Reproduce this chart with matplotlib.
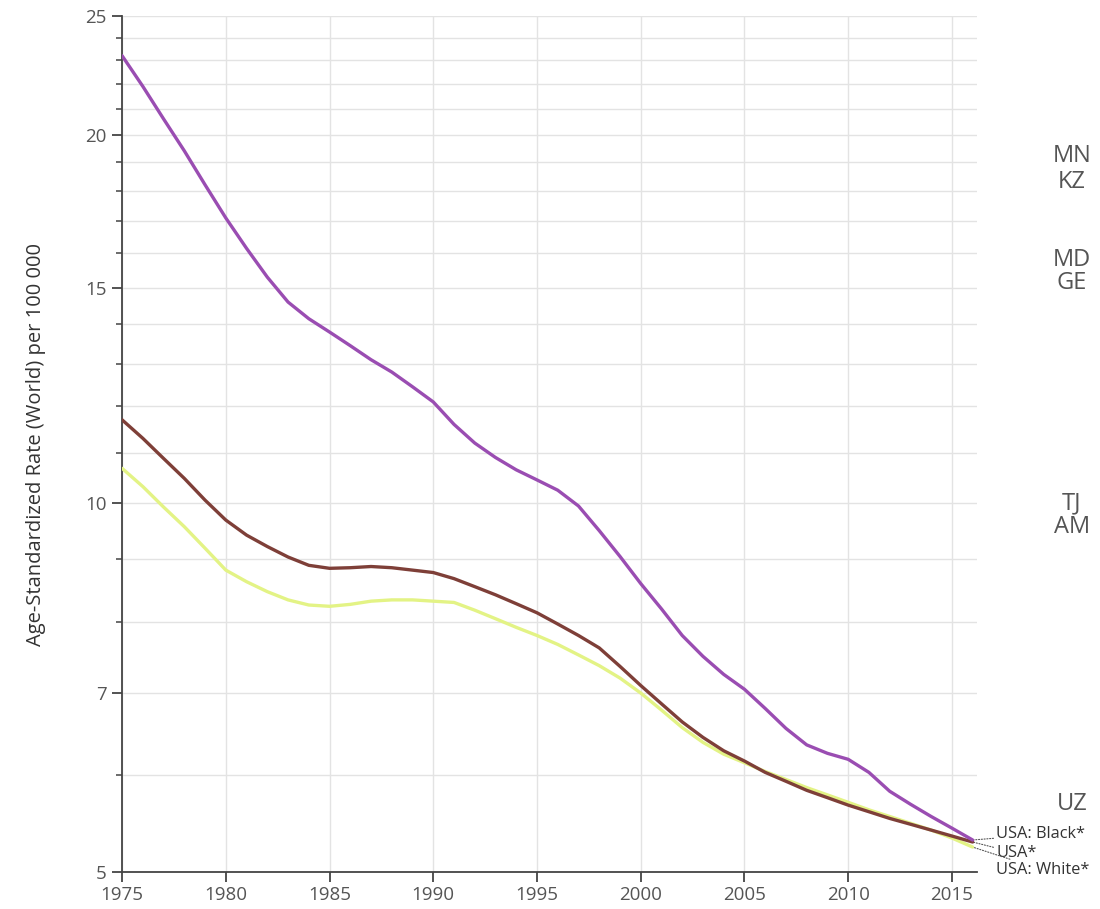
import matplotlib
matplotlib.use("Agg")
import matplotlib.pyplot as plt
from matplotlib.ticker import FixedLocator, NullFormatter, FixedFormatter
import matplotlib.transforms as mtransforms

plt.rcParams['font.family'] = ['Open Sans', 'DejaVu Sans']

years = list(range(1975, 2017))

# USA: Black*
black = [23.2, 21.9, 20.6, 19.4, 18.2, 17.1, 16.15, 15.3, 14.6, 14.15,
         13.8, 13.45, 13.1, 12.8, 12.45, 12.1, 11.6, 11.2, 10.9, 10.65,
         10.45, 10.25, 9.95, 9.5, 9.05, 8.6, 8.2, 7.8, 7.5, 7.25,
         7.05, 6.8, 6.55, 6.35, 6.25, 6.18, 6.03, 5.82, 5.68, 5.55,
         5.43, 5.31]
# USA*
total = [11.7, 11.3, 10.88, 10.48, 10.06, 9.69, 9.42, 9.22, 9.04, 8.9,
         8.85, 8.86, 8.88, 8.86, 8.82, 8.78, 8.68, 8.55, 8.42, 8.28,
         8.14, 7.97, 7.8, 7.62, 7.36, 7.1, 6.86, 6.63, 6.44, 6.28,
         6.16, 6.03, 5.93, 5.83, 5.75, 5.67, 5.6, 5.53, 5.47, 5.41,
         5.35, 5.29]
# USA: White*
white = [10.68, 10.32, 9.93, 9.57, 9.19, 8.82, 8.63, 8.47, 8.34, 8.26,
         8.24, 8.27, 8.32, 8.34, 8.34, 8.32, 8.3, 8.18, 8.05, 7.92,
         7.8, 7.67, 7.52, 7.37, 7.2, 7.0, 6.78, 6.56, 6.38, 6.24,
         6.14, 6.04, 5.95, 5.86, 5.78, 5.7, 5.62, 5.55, 5.48, 5.41,
         5.33, 5.24]

y_major = [5, 7, 10, 15, 20, 25]
y_minor = [v for v in range(6, 25) if v not in y_major]
x_major = list(range(1975, 2016, 5))

side_labels = ['MN', 'KZ', 'MD', 'GE', 'TJ', 'AM', 'UZ']
side_values = [19.2, 18.3, 15.8, 15.13, 10.0, 9.57, 5.68]

usa_labels = ['USA: Black*', 'USA*', 'USA: White*']

fig = plt.figure(figsize=(11, 9.09), dpi=100)
ax = fig.add_axes([0.111, 0.0407, 0.777, 0.9417])

line_kw = dict(lw=2.4, solid_capstyle='round', solid_joinstyle='round')
ax.plot(years, white, color='#e3f385', zorder=3, **line_kw)
ax.plot(years, total, color='#7e3f38', zorder=4, **line_kw)
ax.plot(years, black, color='#9a4db2', zorder=5, **line_kw)

ax.set_yscale('log')
ax.set_ylim(5, 25)
ax.set_xlim(1975, 2016.2)
ax.yaxis.set_major_locator(FixedLocator(y_major))
ax.yaxis.set_major_formatter(FixedFormatter([str(v) for v in y_major]))
ax.yaxis.set_minor_locator(FixedLocator(y_minor))
ax.yaxis.set_minor_formatter(NullFormatter())
ax.set_xticks(x_major)
ax.set_xticklabels([str(v) for v in x_major])

ax.grid(True, which='major', color='#e3e3e3', lw=1.0)
ax.grid(True, which='minor', axis='y', color='#e3e3e3', lw=1.0)
ax.set_axisbelow(True)

for s in ['top', 'right']:
    ax.spines[s].set_visible(False)
for s in ['left', 'bottom']:
    ax.spines[s].set_color('#444444')
    ax.spines[s].set_linewidth(1.3)

ax.tick_params(axis='both', which='major', direction='out', length=7,
               width=1.3, color='#444444', labelsize=13.5, labelcolor='#555555')
ax.tick_params(axis='y', which='minor', direction='out', length=4,
               width=1.1, color='#444444')
ax.tick_params(axis='x', pad=3)
ax.tick_params(axis='y', pad=4)

ax.set_ylabel('Age-Standardized Rate (World) per 100 000', fontsize=14.5,
              color='#333333', labelpad=28)

# country codes on the right margin
trans = mtransforms.blended_transform_factory(fig.transFigure, ax.transData)
for lab, v in zip(side_labels, side_values):
    ax.text(0.9745, v, lab, transform=trans, ha='center', va='center',
            fontsize=17, color='#555555', clip_on=False)

# USA labels with dotted leaders
ends = [black[-1], total[-1], white[-1]]
offsets = [4, -8, -16.5]
for lab, v, dy in zip(usa_labels, ends, offsets):
    ax.annotate(lab, xy=(years[-1], v), xytext=(17, dy),
                textcoords='offset points', ha='left', va='center',
                fontsize=11.8, color='#333333', annotation_clip=False,
                arrowprops=dict(arrowstyle='-', linestyle=(0, (1, 1.5)),
                                color='#555555', lw=0.8,
                                shrinkA=0, shrinkB=1))

fig.savefig('out.png', dpi=100)
